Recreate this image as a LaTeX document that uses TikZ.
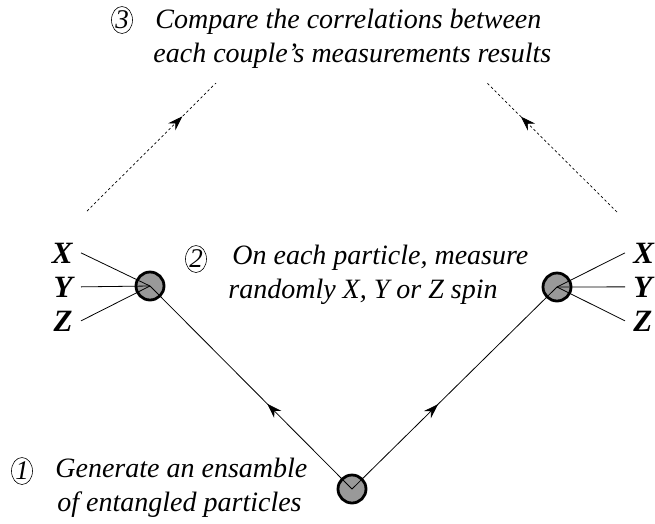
\documentclass[tikz,border=0pt]{standalone}
\usepackage{fontspec}
\setmainfont{Liberation Serif}
\usetikzlibrary{arrows.meta, decorations.markings, shapes.geometric}
\tikzset{
  particle/.style={circle, draw, line width=2.8pt, fill=black!40, minimum size=28pt, inner sep=0pt},
  note/.style={anchor=base west, inner sep=0pt, font=\itshape\fontsize{28}{34}\selectfont},
  stepnum/.style={ellipse, draw, line width=0.6pt, minimum width=21pt, minimum height=27pt, inner sep=0pt, font=\itshape\fontsize{27}{30}\selectfont},
  spin/.style={inner xsep=8pt, inner ysep=0pt, font=\bfseries\itshape\fontsize{31}{31}\selectfont},
  midarrow/.style={postaction={decorate}, decoration={markings, mark=at position #1 with {\arrow{Stealth[length=15pt,width=10pt]}}}},
}

\begin{document}
\begin{tikzpicture}[x=1pt, y=-1pt, line width=0.8pt]
    \useasboundingbox (0,0) rectangle (655,523);
    % particles
    \node[particle] (src) at (352,489) {};
    \node[particle] (pl) at (150,286) {};
    \node[particle] (pr) at (557,287) {};
    % source to particles
    \draw[midarrow=0.42] (src.center) -- (pl.center);
    \draw[midarrow=0.42] (src.center) -- (pr.center);
    % measurement axes
    \node[spin, anchor=base east] (lx) at (81,263) {X};
    \node[spin, anchor=base east] (ly) at (81,297) {Y};
    \node[spin, anchor=base east] (lz) at (81,331) {Z};
    \node[spin, anchor=base west] (rx) at (625,263) {X};
    \node[spin, anchor=base west] (ry) at (625,297) {Y};
    \node[spin, anchor=base west] (rz) at (625,331) {Z};
    \foreach \a in {lx, ly, lz} \draw (\a.east) -- (pl.center);
    \foreach \a in {rx, ry, rz} \draw (\a.west) -- (pr.center);
    % comparison
    \coordinate (dl0) at (87,211);
    \coordinate (dl1) at (216,83);
    \coordinate (dr0) at (617,212);
    \coordinate (dr1) at (487,83);
    \draw[dash pattern=on 2.5pt off 2.5pt, line width=0.7pt, midarrow=0.74] (dl0) -- (dl1);
    \draw[dash pattern=on 2.5pt off 2.5pt, line width=0.7pt, midarrow=0.74] (dr0) -- (dr1);
    % captions
    \node[stepnum] (n3) at (122,20) {3};
    \node[note] (t3a) at (155,28) {Compare the correlations between};
    \node[note] (t3b) at (153,62) {each couple{\char"27}s measurements results};
    \node[stepnum] (n2) at (196,259) {2};
    \node[note] (t2a) at (232,264) {On each particle, measure};
    \node[note] (t2b) at (228,298) {randomly X, Y or Z spin};
    \node[stepnum] (n1) at (22,471) {1};
    \node[note] (t1a) at (55,477) {Generate an ensamble};
    \node[note] (t1b) at (57,511) {of entangled particles};
\end{tikzpicture}
\end{document}
